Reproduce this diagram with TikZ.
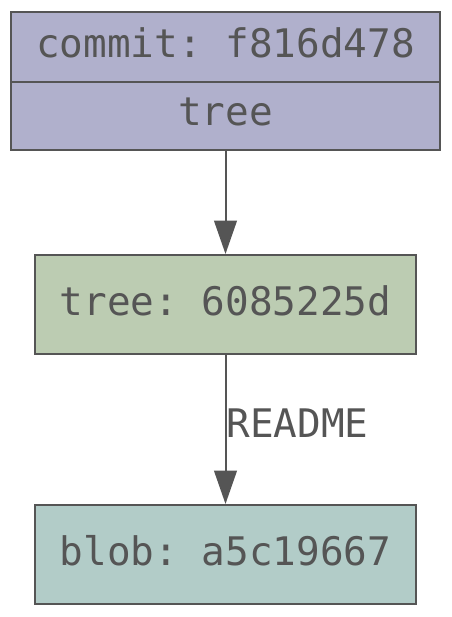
\documentclass[tikz,border=0pt]{standalone}
\usepackage{fontspec}
\setmonofont{DejaVu Sans Mono}
\usetikzlibrary{arrows.meta}
\definecolor{ink}{HTML}{555555}
\definecolor{commitfill}{HTML}{B0B0CC}
\definecolor{treefill}{HTML}{BCCCB2}
\definecolor{blobfill}{HTML}{B2CCC8}
\tikzset{
  obj/.style={draw=ink, line width=1.5pt, inner sep=0pt, text=ink, text depth=6pt,
    font=\ttfamily\fontsize{29.5pt}{34pt}\selectfont},
  link/.style={draw=ink, line width=1.5pt,
    -{Triangle[length=25pt,width=17pt]}},
  lbl/.style={text=ink, inner sep=0pt, font=\ttfamily\fontsize{29.5pt}{34pt}\selectfont}
}
\begin{document}
\begin{tikzpicture}[x=0.75pt,y=-0.75pt]
\useasboundingbox (0,0) rectangle (451,617);
\node[obj, fill=commitfill, minimum width=321.75pt, minimum height=52.5pt] (commit) at (225.5,47) {commit: f816d478};
\node[obj, fill=commitfill, minimum width=321.75pt, minimum height=51pt] (ctree) at (225.5,116) {tree};
\node[obj, fill=treefill, minimum width=285.75pt, minimum height=74.25pt] (tree) at (225.5,304.5) {tree: 6085225d};
\node[obj, fill=blobfill, minimum width=285.75pt, minimum height=74.25pt] (blob) at (225.5,554.5) {blob: a5c19667};
\draw[link] (ctree.south) -- (tree.north);
\draw[link] (tree.south) -- node[lbl, pos=0.46, anchor=west] (readme) {README} (blob.north);
\end{tikzpicture}
\end{document}
